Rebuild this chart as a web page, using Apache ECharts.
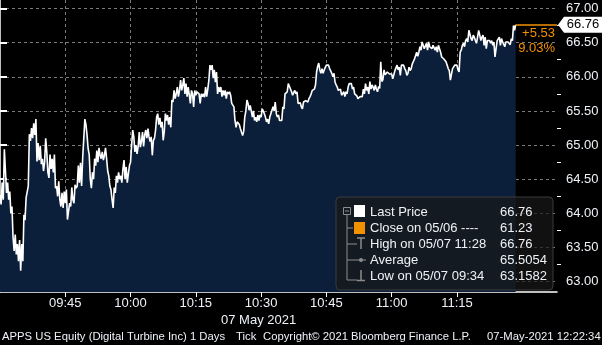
<!DOCTYPE html>
<html><head><meta charset="utf-8">
<script src="https://cdn.jsdelivr.net/npm/echarts@6/dist/echarts.min.js"></script>
<style>html,body{margin:0;padding:0;background:#000}#c{width:602px;height:345px}</style>
</head><body><div id="c"></div>
<script>
// ---- data ----
const sessionStartMinutes = 9 * 60 + 30;   // 09:30
const sampleSeconds = 15;                  // one reading every 15 s
const prices = [
  64.27, 64.13, 64.45, 64.20, 64.94, 64.94, 64.30, 64.45, 64.20, 64.32,
  64.00, 64.10, 63.65, 63.45, 63.69, 63.40, 63.55, 63.30, 63.61, 63.16,
  63.55, 63.30, 63.98, 63.90, 64.23, 64.25, 64.40, 65.16, 65.06, 65.25,
  65.10, 65.32, 65.15, 65.38, 64.76, 65.03, 64.78, 64.99, 64.72, 64.80,
  64.62, 64.75, 65.10, 64.90, 64.60, 64.52, 64.86, 64.65, 64.80, 64.60,
  64.86, 64.37, 64.40, 64.25, 64.47, 64.20, 64.10, 64.30, 64.08, 64.32,
  64.15, 64.35, 63.91, 64.03, 64.15, 64.10, 64.38, 64.20, 64.15, 64.42,
  64.37, 64.40, 64.70, 64.45, 64.74, 64.40, 64.81, 64.80, 65.38, 65.30,
  65.15, 64.95, 64.86, 64.50, 64.37, 64.60, 64.50, 64.80, 64.70, 64.92,
  64.75, 64.96, 64.85, 64.80, 64.90, 64.78, 64.85, 64.96, 64.80, 64.62,
  64.55, 64.40, 64.35, 64.20, 64.08, 64.38, 64.30, 64.55, 64.45, 64.60,
  64.50, 64.55, 64.45, 64.65, 64.78, 64.50, 64.68, 64.45, 64.58, 64.70,
  64.75, 65.00, 65.22, 65.12, 64.90, 65.00, 64.87, 64.98, 65.19, 64.97,
  65.05, 65.19, 64.98, 65.15, 65.22, 65.10, 65.24, 65.12, 65.05, 65.12,
  64.85, 65.07, 65.10, 65.22, 65.41, 65.46, 65.30, 65.40, 65.26, 65.34,
  65.07, 65.20, 65.46, 65.36, 65.44, 65.30, 65.41, 65.26, 65.66, 65.63,
  65.80, 65.68, 65.75, 65.85, 65.71, 65.80, 65.95, 65.80, 65.88, 65.98,
  65.75, 65.90, 65.71, 65.85, 65.73, 65.61, 65.80, 65.75, 65.56, 65.80,
  65.73, 65.78, 65.78, 65.75, 65.61, 65.75, 65.71, 65.75, 65.70, 65.85,
  65.71, 65.82, 65.95, 66.17, 66.10, 66.17, 65.98, 66.10, 65.92, 66.07,
  65.75, 65.85, 65.78, 65.85, 65.71, 65.80, 65.73, 65.80, 65.68, 65.78,
  65.75, 65.78, 65.73, 65.61, 65.63, 65.56, 65.36, 65.26, 65.34, 65.36,
  65.30, 65.24, 65.22, 65.14, 65.20, 65.41, 65.50, 65.66, 65.61, 65.51,
  65.58, 65.56, 65.41, 65.50, 65.36, 65.41, 65.34, 65.44, 65.36, 65.44,
  65.41, 65.53, 65.50, 65.46, 65.41, 65.34, 65.38, 65.31, 65.41, 65.40,
  65.51, 65.56, 65.50, 65.63, 65.46, 65.41, 65.44, 65.36, 65.34, 65.36,
  65.56, 65.53, 65.75, 65.73, 65.78, 65.90, 65.88, 65.82, 65.78, 65.73,
  65.77, 65.80, 65.75, 65.78, 65.61, 65.60, 65.62, 65.56, 65.53, 65.63,
  65.61, 65.65, 65.66, 65.63, 65.68, 65.71, 65.75, 65.80, 65.78, 65.82,
  65.88, 66.07, 66.15, 66.20, 66.10, 66.05, 66.12, 66.05, 66.10, 66.12,
  66.17, 66.15, 66.17, 66.12, 66.10, 66.05, 66.00, 66.05, 65.92, 65.88,
  65.85, 65.80, 65.78, 65.82, 65.73, 65.73, 65.78, 65.71, 65.78, 65.75,
  65.85, 65.90, 65.88, 65.90, 65.82, 65.85, 65.75, 65.75, 65.72, 65.68,
  65.66, 65.71, 65.73, 65.71, 65.82, 65.75, 65.90, 65.80, 65.85, 65.75,
  65.93, 65.82, 65.88, 65.85, 65.80, 65.88, 65.82, 65.78, 65.86, 65.83,
  66.22, 65.93, 65.96, 66.10, 66.03, 66.05, 66.07, 66.05, 66.04, 66.02,
  66.04, 65.97, 66.03, 66.09, 66.07, 66.17, 66.10, 66.14, 66.02, 66.17,
  66.19, 66.17, 66.12, 66.09, 66.02, 66.05, 66.14, 66.09, 66.12, 66.19,
  66.17, 66.26, 66.26, 66.36, 66.30, 66.36, 66.44, 66.39, 66.51, 66.46,
  66.41, 66.39, 66.49, 66.39, 66.51, 66.44, 66.46, 66.41, 66.46, 66.44,
  66.39, 66.44, 66.36, 66.46, 66.44, 66.36, 66.29, 66.31, 66.26, 66.24,
  66.22, 66.22, 66.12, 66.09, 65.95, 66.04, 66.12, 66.14, 66.17, 66.17,
  66.17, 66.10, 66.07, 66.36, 66.39, 66.46, 66.49, 66.44, 66.53, 66.56,
  66.51, 66.68, 66.66, 66.56, 66.53, 66.61, 66.58, 66.53, 66.49, 66.51,
  66.68, 66.61, 66.53, 66.58, 66.61, 66.46, 66.58, 66.41, 66.53, 66.51,
  66.53, 66.49, 66.53, 66.46, 66.51, 66.29, 66.29, 66.53, 66.51, 66.58,
  66.46, 66.56, 66.51, 66.53, 66.44, 66.51, 66.49, 66.51, 66.49, 66.47,
  66.56, 66.53, 66.75, 66.68, 66.76
];
const xTickMinutes = [15, 30, 45, 60, 75, 90, 105];       // 09:45 ... 11:15
const yTickValues = [63, 63.5, 64, 64.5, 65, 65.5, 66, 66.5, 67];
const yMinorValues = [63.25, 63.75, 64.25, 64.75, 65.25, 65.75, 66.25, 66.75];
const lastPrice = 66.76;
const changeAbs = '+5.53';
const changePct = '9.03%';
const dateLabel = '07 May 2021';
const footerParts = ['APPS US Equity (Digital Turbine Inc) 1 Days', 'Tick', 'Copyright\u00A9 2021 Bloomberg Finance L.P.', '07-May-2021 12:22:34'];
const legendLabels = ['Last Price', 'Close on 05/06 ----', 'High on 05/07 11:28', 'Average', 'Low on 05/07 09:34'];
const legendValues = ['66.76', '61.23', '66.76', '65.5054', '63.1582'];

// ---- style ----
const FONT = '"Liberation Sans", Arial, sans-serif';
const NAVY = '#0b1f3b';
const ORANGE = '#f39200';
const TXT = '#eef2f8';
const GRIDC = '#7a7a7a';
const X_MIN = 0, X_MAX = 128;
const Y_MIN = 62.849, Y_MAX = 67.124;

const data = prices.map((p, i) => [i * sampleSeconds / 60, p]);
const lastT = data[data.length - 1][0];

function fmtTime(m) {
  const t = sessionStartMinutes + m;
  const h = Math.floor(t / 60), mm = Math.round(t % 60);
  return String(h).padStart(2, '0') + ':' + String(mm).padStart(2, '0');
}

const chart = echarts.init(document.getElementById('c'), null, {renderer: 'canvas'});

// legend graphics
const LX = 336, LY = 197, rowY = [212, 228, 244, 260, 276];
const gray = '#8c8c8c';
const legendEls = [
  {type: 'rect', shape: {x: LX, y: LY, width: 217, height: 93, r: 4},
   style: {fill: 'rgba(24,24,24,0.7)', stroke: '#3a3a3a', lineWidth: 1}},
  // tree
  {type: 'rect', shape: {x: 343.5, y: 207.5, width: 7, height: 7}, style: {fill: 'none', stroke: gray, lineWidth: 1}},
  {type: 'line', shape: {x1: 345, y1: 211, x2: 349, y2: 211}, style: {stroke: gray, lineWidth: 1}},
  {type: 'line', shape: {x1: 347, y1: 214.5, x2: 347, y2: 280}, style: {stroke: gray, lineWidth: 1}},
  {type: 'line', shape: {x1: 347, y1: 228, x2: 353, y2: 228}, style: {stroke: gray, lineWidth: 1}},
  {type: 'line', shape: {x1: 347, y1: 244, x2: 357, y2: 244}, style: {stroke: gray, lineWidth: 1}},
  {type: 'line', shape: {x1: 357, y1: 238, x2: 365, y2: 238}, style: {stroke: gray, lineWidth: 1.5}},
  {type: 'line', shape: {x1: 361, y1: 238, x2: 361, y2: 249}, style: {stroke: gray, lineWidth: 1.5}},
  {type: 'line', shape: {x1: 347, y1: 260, x2: 366, y2: 260}, style: {stroke: gray, lineWidth: 1}},
  {type: 'circle', shape: {cx: 361, cy: 260, r: 2}, style: {fill: gray}},
  {type: 'line', shape: {x1: 347, y1: 280, x2: 357, y2: 280}, style: {stroke: gray, lineWidth: 1}},
  {type: 'line', shape: {x1: 357, y1: 280.5, x2: 365, y2: 280.5}, style: {stroke: gray, lineWidth: 1.5}},
  {type: 'line', shape: {x1: 361, y1: 270, x2: 361, y2: 280}, style: {stroke: gray, lineWidth: 1.5}},
  // swatches
  {type: 'rect', shape: {x: 354, y: 205, width: 11, height: 12}, style: {fill: '#ffffff'}},
  {type: 'rect', shape: {x: 354, y: 222, width: 11, height: 12}, style: {fill: ORANGE}}
];
legendLabels.forEach((t, i) => {
  legendEls.push({type: 'text', x: 370, y: rowY[i], style: {text: t, fill: TXT, font: '13px ' + FONT, align: 'left', verticalAlign: 'middle'}});
  legendEls.push({type: 'text', x: 500, y: rowY[i], style: {text: legendValues[i], fill: TXT, font: '13px ' + FONT, align: 'left', verticalAlign: 'middle'}});
});

const footerX = [2, 236, 263, 487];
const textEls = [
  {type: 'text', x: 555, y: 33, style: {text: changeAbs, fill: ORANGE, font: '13px ' + FONT, align: 'right', verticalAlign: 'middle'}},
  {type: 'text', x: 555, y: 48, style: {text: changePct, fill: ORANGE, font: '13px ' + FONT, align: 'right', verticalAlign: 'middle'}},
  {type: 'text', x: 221, y: 320, style: {text: dateLabel, fill: TXT, font: '13px ' + FONT, align: 'left', verticalAlign: 'middle'}}
];
footerParts.forEach((t, i) => {
  textEls.push({type: 'text', x: footerX[i], y: 337, style: {text: t, fill: TXT, font: '11.3px ' + FONT, align: 'left', verticalAlign: 'middle'}});
});
const graphicEls = legendEls.concat(textEls).map(e => Object.assign({z: 100, silent: true}, e));

const option = {
  backgroundColor: '#000',
  animation: false,
  grid: {left: 0, top: 0, width: 557, height: 292, containLabel: false},
  xAxis: {
    type: 'value', min: X_MIN, max: X_MAX,
    axisLine: {show: true, lineStyle: {color: '#fff', width: 1.5}},
    axisTick: {show: true, customValues: xTickMinutes, length: 5, lineStyle: {color: '#fff', width: 1}},
    axisLabel: {customValues: xTickMinutes, formatter: v => fmtTime(v), color: TXT, fontSize: 13, fontFamily: FONT, margin: 5},
    splitLine: {show: true, lineStyle: {color: GRIDC, type: [3, 3], width: 1}}
  },
  yAxis: [{
    type: 'value', position: 'right', min: Y_MIN, max: Y_MAX,
    axisLine: {show: true, lineStyle: {color: '#fff', width: 1.5}},
    axisTick: {show: true, customValues: yTickValues, length: 7, lineStyle: {color: '#fff', width: 2}},
    axisLabel: {customValues: yTickValues, formatter: v => v.toFixed(2), color: TXT, fontSize: 13, fontFamily: FONT, margin: 9},
    splitLine: {show: true, lineStyle: {color: GRIDC, type: [3, 3], width: 1}}
  }, {
    type: 'value', position: 'right', min: Y_MIN, max: Y_MAX,
    axisLine: {show: false},
    axisTick: {show: true, customValues: yMinorValues, length: 4, lineStyle: {color: '#fff', width: 1}},
    axisLabel: {show: false},
    splitLine: {show: false}
  }],
  series: [{
    type: 'line', data: data, yAxisIndex: 0,
    showSymbol: false, symbol: 'none', smooth: false,
    lineStyle: {color: '#ffffff', width: 1.6},
    areaStyle: {color: NAVY, opacity: 1, origin: 'start'},
    z: 3,
    markLine: {
      silent: true, symbol: 'none', animation: false,
      lineStyle: {color: ORANGE, width: 1.5, type: 'solid'},
      label: {show: false},
      data: [[{coord: [lastT, lastPrice]}, {coord: [X_MAX, lastPrice]}]]
    },
    markPoint: {
      silent: true, animation: false,
      data: [{coord: [X_MAX, lastPrice]}],
      symbol: 'path://M0,8 L6,0 L44,0 L44,16 L6,16 Z',
      symbolSize: [44, 16], symbolKeepAspect: false, symbolOffset: [23, 0],
      itemStyle: {color: '#ffffff'},
      label: {show: true, position: 'inside', formatter: lastPrice.toFixed(2), color: '#000', fontSize: 13, fontFamily: FONT, offset: [3, 0]}
    }
  }],
  graphic: {elements: graphicEls}
};
chart.setOption(option);
</script></body></html>
